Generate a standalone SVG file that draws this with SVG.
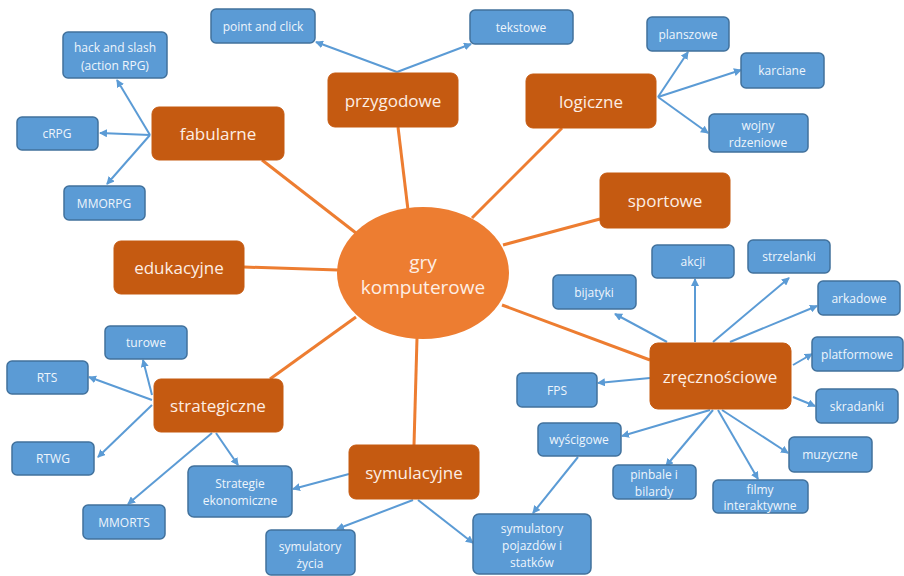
<svg xmlns="http://www.w3.org/2000/svg" width="904" height="576" viewBox="0 0 904 576">
<style>
.ob{fill:#c55a11;stroke:#c55a11;stroke-width:1}
.bb{fill:#5b9bd5;stroke:#41719c;stroke-width:1.5}
.ot{font-family:"Open Sans","Liberation Sans",sans-serif;font-size:17px;fill:#fdeee4;text-anchor:middle;dominant-baseline:central}
.bt{font-family:"Open Sans","Liberation Sans",sans-serif;font-size:12px;fill:#eef5fc;text-anchor:middle;dominant-baseline:central}
.ct{font-family:"Open Sans","Liberation Sans",sans-serif;font-size:19px;fill:#fdeee4;text-anchor:middle}
.oc{stroke:#ed7d31;stroke-width:3;fill:none}
.bc{stroke:#5b9bd5;stroke-width:2;fill:none;marker-end:url(#ah)}
</style>
<defs>
<marker id="ah" viewBox="0 0 8 8" refX="7" refY="4" markerWidth="8" markerHeight="8" markerUnits="userSpaceOnUse" orient="auto">
<path d="M0,0 L8,4 L0,8 z" fill="#5b9bd5"/>
</marker>
</defs>
<rect width="904" height="576" fill="#ffffff"/>
<g id="connectors">
<line class="oc" x1="262" y1="160" x2="356" y2="233"/>
<line class="oc" x1="398" y1="127" x2="408" y2="210"/>
<line class="oc" x1="562" y1="128" x2="472" y2="218"/>
<line class="oc" x1="600" y1="219" x2="503" y2="245"/>
<line class="oc" x1="244" y1="267" x2="338" y2="270"/>
<line class="oc" x1="650" y1="360" x2="502" y2="305"/>
<line class="oc" x1="270" y1="379" x2="356" y2="317"/>
<line class="oc" x1="414" y1="445" x2="417" y2="338"/>
<line class="bc" x1="150" y1="135" x2="117" y2="80"/>
<line class="bc" x1="150" y1="135" x2="100" y2="133"/>
<line class="bc" x1="150" y1="135" x2="107" y2="184"/>
<line class="bc" x1="397" y1="72" x2="316" y2="42"/>
<line class="bc" x1="397" y1="72" x2="471" y2="44"/>
<line class="bc" x1="658" y1="97" x2="688" y2="52"/>
<line class="bc" x1="658" y1="97" x2="741" y2="70"/>
<line class="bc" x1="658" y1="97" x2="708" y2="133"/>
<line class="bc" x1="667" y1="342" x2="615" y2="314"/>
<line class="bc" x1="695" y1="342" x2="695" y2="279"/>
<line class="bc" x1="713" y1="342" x2="789" y2="278"/>
<line class="bc" x1="730" y1="342" x2="817" y2="306"/>
<line class="bc" x1="793" y1="365" x2="812" y2="354"/>
<line class="bc" x1="650" y1="378" x2="598" y2="383"/>
<line class="bc" x1="793" y1="397" x2="815" y2="406"/>
<line class="bc" x1="710" y1="410" x2="622" y2="436"/>
<line class="bc" x1="713" y1="410" x2="666" y2="466"/>
<line class="bc" x1="718" y1="410" x2="758" y2="479"/>
<line class="bc" x1="722" y1="410" x2="788" y2="453"/>
<line class="bc" x1="578" y1="457" x2="533" y2="513"/>
<line class="bc" x1="349" y1="474" x2="293" y2="489"/>
<line class="bc" x1="413" y1="500" x2="337" y2="529"/>
<line class="bc" x1="418" y1="500" x2="473" y2="543"/>
<line class="bc" x1="152" y1="395" x2="143" y2="360"/>
<line class="bc" x1="152" y1="400" x2="89" y2="377"/>
<line class="bc" x1="152" y1="405" x2="98" y2="457"/>
<line class="bc" x1="212" y1="433" x2="128" y2="504"/>
<line class="bc" x1="216" y1="433" x2="238" y2="465"/>
</g>
<g id="center">
<ellipse cx="423" cy="273" rx="86" ry="66" fill="#ed7d31"/>
<text class="ct" x="423" y="269">gry</text>
<text class="ct" x="423" y="294">komputerowe</text>
</g>
<g id="fabularne"><rect class="ob" x="152" y="107" width="132" height="53" rx="7"/><text class="ot" x="218" y="133">fabularne</text></g>
<g id="przygodowe"><rect class="ob" x="328" y="73" width="130" height="54" rx="7"/><text class="ot" x="393" y="100">przygodowe</text></g>
<g id="logiczne"><rect class="ob" x="526" y="74" width="130" height="54" rx="7"/><text class="ot" x="591" y="101">logiczne</text></g>
<g id="sportowe"><rect class="ob" x="600" y="173" width="130" height="55" rx="7"/><text class="ot" x="665" y="200">sportowe</text></g>
<g id="edukacyjne"><rect class="ob" x="114" y="241" width="130" height="53" rx="7"/><text class="ot" x="179" y="267">edukacyjne</text></g>
<g id="zrecznosciowe"><rect class="ob" x="650" y="343" width="141" height="66" rx="8"/><text class="ot" x="720" y="376">zręcznościowe</text></g>
<g id="strategiczne"><rect class="ob" x="154" y="379" width="129" height="53" rx="7"/><text class="ot" x="218" y="405">strategiczne</text></g>
<g id="symulacyjne"><rect class="ob" x="349" y="445" width="130" height="54" rx="7"/><text class="ot" x="414" y="472">symulacyjne</text></g>
<g id="hack"><rect class="bb" x="63" y="32" width="104" height="46" rx="5"/><text class="bt" x="115" y="47">hack and slash</text><text class="bt" x="115" y="65">(action RPG)</text></g>
<g id="crpg"><rect class="bb" x="17" y="117" width="81" height="33" rx="5"/><text class="bt" x="57" y="133">cRPG</text></g>
<g id="mmorpg"><rect class="bb" x="64" y="186" width="81" height="34" rx="5"/><text class="bt" x="104" y="203">MMORPG</text></g>
<g id="pointclick"><rect class="bb" x="211" y="9" width="104" height="34" rx="5"/><text class="bt" x="263" y="26">point and click</text></g>
<g id="tekstowe"><rect class="bb" x="470" y="10" width="103" height="34" rx="5"/><text class="bt" x="521" y="27">tekstowe</text></g>
<g id="planszowe"><rect class="bb" x="647" y="17" width="82" height="34" rx="5"/><text class="bt" x="688" y="34">planszowe</text></g>
<g id="karciane"><rect class="bb" x="741" y="53" width="83" height="35" rx="5"/><text class="bt" x="782" y="70">karciane</text></g>
<g id="wojny"><rect class="bb" x="709" y="114" width="99" height="38" rx="5"/><text class="bt" x="758" y="125">wojny</text><text class="bt" x="758" y="142">rdzeniowe</text></g>
<g id="akcji"><rect class="bb" x="652" y="245" width="82" height="33" rx="5"/><text class="bt" x="693" y="261">akcji</text></g>
<g id="strzelanki"><rect class="bb" x="748" y="240" width="82" height="33" rx="5"/><text class="bt" x="789" y="256">strzelanki</text></g>
<g id="bijatyki"><rect class="bb" x="553" y="275" width="83" height="34" rx="5"/><text class="bt" x="594" y="292">bijatyki</text></g>
<g id="arkadowe"><rect class="bb" x="818" y="281" width="82" height="34" rx="5"/><text class="bt" x="859" y="298">arkadowe</text></g>
<g id="platformowe"><rect class="bb" x="812" y="337" width="91" height="34" rx="5"/><text class="bt" x="857" y="354">platformowe</text></g>
<g id="fps"><rect class="bb" x="517" y="373" width="80" height="34" rx="5"/><text class="bt" x="557" y="390">FPS</text></g>
<g id="skradanki"><rect class="bb" x="816" y="389" width="82" height="34" rx="5"/><text class="bt" x="857" y="406">skradanki</text></g>
<g id="wyscigowe"><rect class="bb" x="538" y="423" width="83" height="33" rx="5"/><text class="bt" x="579" y="439">wyścigowe</text></g>
<g id="pinbale"><rect class="bb" x="613" y="465" width="83" height="34" rx="5"/><text class="bt" x="654" y="474">pinbale i</text><text class="bt" x="654" y="491">bilardy</text></g>
<g id="muzyczne"><rect class="bb" x="789" y="437" width="83" height="35" rx="5"/><text class="bt" x="830" y="454">muzyczne</text></g>
<g id="filmy"><rect class="bb" x="713" y="480" width="95" height="33" rx="5"/><text class="bt" x="760" y="489">filmy</text><text class="bt" x="760" y="505">interaktywne</text></g>
<g id="pojazdow"><rect class="bb" x="473" y="514" width="118" height="60" rx="6"/><text class="bt" x="532" y="528">symulatory</text><text class="bt" x="532" y="545">pojazdów i</text><text class="bt" x="532" y="562">statków</text></g>
<g id="zycia"><rect class="bb" x="266" y="530" width="89" height="45" rx="5"/><text class="bt" x="310" y="546">symulatory</text><text class="bt" x="310" y="563">życia</text></g>
<g id="ekonomiczne"><rect class="bb" x="188" y="466" width="104" height="51" rx="6"/><text class="bt" x="240" y="483">Strategie</text><text class="bt" x="240" y="500">ekonomiczne</text></g>
<g id="turowe"><rect class="bb" x="105" y="326" width="82" height="33" rx="5"/><text class="bt" x="146" y="342">turowe</text></g>
<g id="rts"><rect class="bb" x="7" y="361" width="81" height="33" rx="5"/><text class="bt" x="47" y="377">RTS</text></g>
<g id="rtwg"><rect class="bb" x="12" y="442" width="82" height="33" rx="5"/><text class="bt" x="53" y="458">RTWG</text></g>
<g id="mmorts"><rect class="bb" x="83" y="505" width="82" height="34" rx="5"/><text class="bt" x="124" y="522">MMORTS</text></g>
</svg>
